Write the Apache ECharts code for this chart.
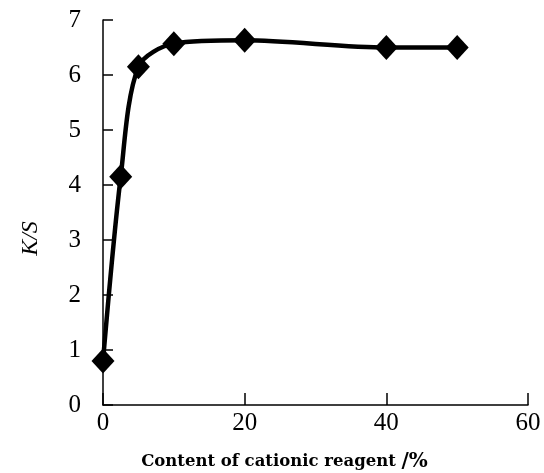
<!DOCTYPE html>
<html><head><meta charset="utf-8">
<script src="https://cdn.jsdelivr.net/npm/echarts@6/dist/echarts.min.js"></script>
<style>html,body{margin:0;padding:0;background:#fff}#c{width:544px;height:473px}</style>
</head><body><div id="c"></div>
<script>
const xValues = [0, 2.5, 5, 10, 20, 40, 50];
const ksValues = [0.8, 4.15, 6.15, 6.57, 6.63, 6.5, 6.5];
const xTicks = [0, 20, 40, 60];
const yTicks = [0, 1, 2, 3, 4, 5, 6, 7];

const chart = echarts.init(document.getElementById('c'));
chart.setOption({
  animation: false,
  grid: {left: 103, right: 16, top: 20, bottom: 68, containLabel: false, outerBoundsMode: 'none'},
  xAxis: {
    type: 'value', min: 0, max: 60, interval: 20,
    name: '{a|Content of cationic reagent }{b|/%}',
    nameLocation: 'middle', nameGap: 47,
    nameTextStyle: {padding: [0, 62, 0, 0], rich: {
      a: {fontFamily: 'DejaVu Serif', fontWeight: 'bold', fontSize: 16.5, color: '#000'},
      b: {fontFamily: 'DejaVu Serif', fontWeight: 'bold', fontSize: 20, color: '#000'}
    }},
    axisLine: {show: true, lineStyle: {color: '#000', width: 1.5}},
    axisTick: {inside: true, length: 12, lineStyle: {color: '#000', width: 1.5}},
    axisLabel: {fontFamily: 'Liberation Serif', fontSize: 25, color: '#000', margin: 6},
    splitLine: {show: false}
  },
  yAxis: {
    type: 'value', min: 0, max: 7, interval: 1,
    name: 'K/S', nameLocation: 'middle', nameGap: 60, nameRotate: 90,
    nameTextStyle: {fontFamily: 'Liberation Serif', fontStyle: 'italic', fontSize: 24, color: '#000', padding: [0, 52, 0, 0]},
    axisLine: {show: true, lineStyle: {color: '#000', width: 1.5}},
    axisTick: {inside: true, length: 10, lineStyle: {color: '#000', width: 1.5}},
    axisLabel: {fontFamily: 'Liberation Serif', fontSize: 25, color: '#000', margin: 22},
    splitLine: {show: false}
  },
  series: [{
    type: 'line',
    data: xValues.map((x, i) => [x, ksValues[i]]),
    smooth: 0.3,
    symbol: 'diamond', symbolSize: [23, 25],
    lineStyle: {color: '#000', width: 4.5},
    itemStyle: {color: '#000'}
  }]
});
</script></body></html>
